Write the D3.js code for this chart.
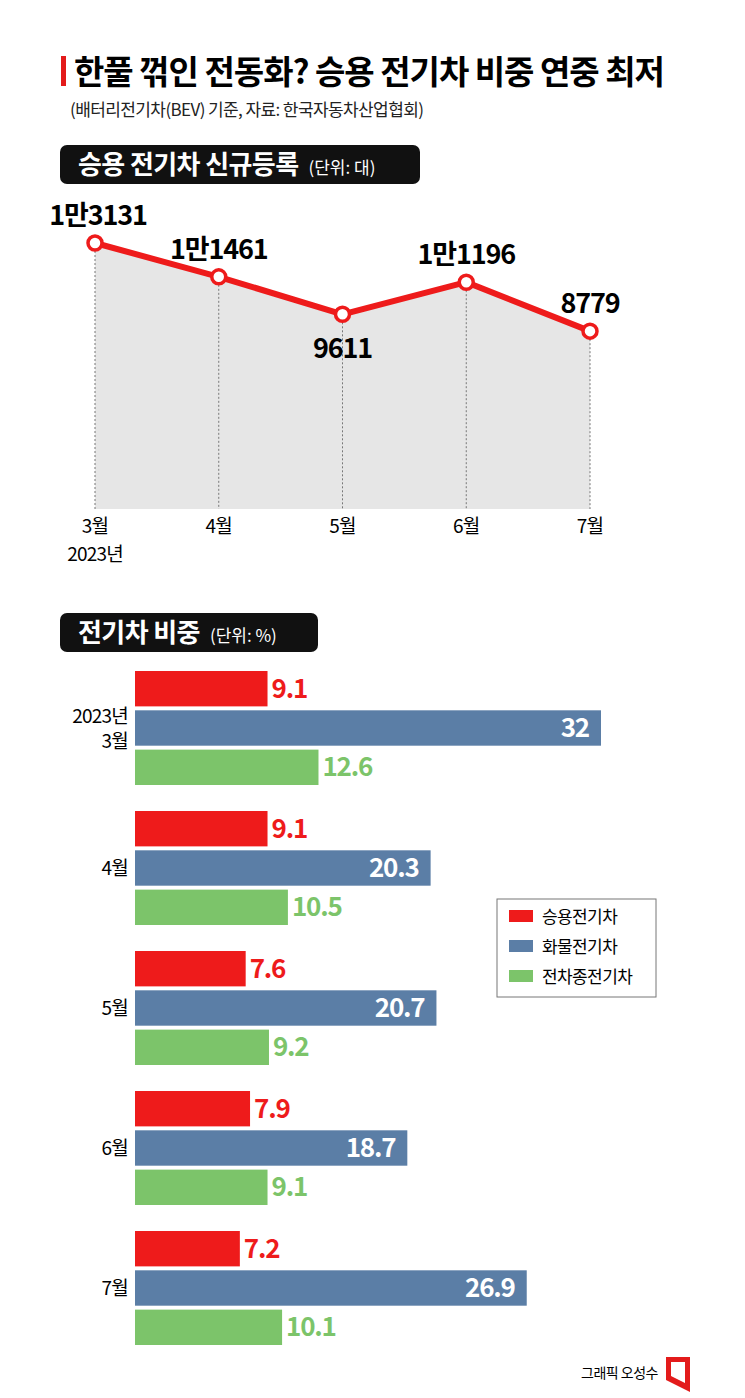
<!DOCTYPE html>
<html><head><meta charset="utf-8">
<script src="https://cdn.jsdelivr.net/npm/d3@7"></script>
<style>body{margin:0;background:#fff;font-family:"Noto Sans CJK KR","Noto Sans",sans-serif}</style>
</head><body>
<svg id="c" width="745" height="1398"></svg>
<script>
const months = ['3월', '4월', '5월', '6월', '7월'];
const regs = [13131, 11461, 9611, 11196, 8779];
const regLabels = ['1만3131', '1만1461', '9611', '1만1196', '8779'];
const barCats = ['2023년\n3월', '4월', '5월', '6월', '7월'];
const passenger = [9.1, 9.1, 7.6, 7.9, 7.2];
const truck = [32, 20.3, 20.7, 18.7, 26.9];
const allCars = [12.6, 10.5, 9.2, 9.1, 10.1];
const seriesNames = ['승용 전기차', '화물 전기차', '전차종 전기차'];
const colors = ['#ee1b1b', '#5b7ea6', '#7cc46a'];

const svg = d3.select('#c');
const F = '"Noto Sans CJK KR", sans-serif';

// 제목
svg.append('rect').attr('x', 61).attr('y', 56).attr('width', 5).attr('height', 30).attr('fill', '#e31b1b');
svg.append('text').attr('x', 74).attr('y', 84).attr('font-family', F).attr('font-weight', 700)
  .attr('font-size', 33).attr('letter-spacing', -1).text('한풀 꺾인 전동화?  승용 전기차 비중 연중 최저');
svg.append('text').attr('x', 70).attr('y', 116).attr('font-family', F).attr('font-size', 17)
  .attr('letter-spacing', -0.6).attr('fill', '#222').text('(배터리전기차(BEV) 기준, 자료: 한국자동차산업협회)');

function header(y, w, main, unit) {
  svg.append('rect').attr('x', 60).attr('y', y).attr('width', w).attr('height', 39).attr('rx', 7).attr('fill', '#111');
  const t = svg.append('text').attr('x', 78).attr('y', y + 29).attr('fill', '#fff').attr('font-family', F);
  t.append('tspan').attr('font-size', 26).attr('font-weight', 700).attr('letter-spacing', -0.6).text(main);
  t.append('tspan').attr('font-size', 17).attr('dx', 10).text(unit);
}
header(145, 360, '승용 전기차 신규등록', '(단위: 대)');
header(613, 258, '전기차 비중', '(단위: %)');

// 선 그래프
const x = d3.scalePoint().domain(months).range([95, 590]);
const y = d3.scaleLinear().domain([0, 13131]).range([509, 243]);
const pts = months.map((m, i) => ({ m, v: regs[i], l: regLabels[i] }));

svg.append('path').datum(pts).attr('fill', '#e6e6e6')
  .attr('d', d3.area().x(d => x(d.m)).y0(y(0)).y1(d => y(d.v)));
svg.selectAll('.drop').data(pts).join('line')
  .attr('x1', d => x(d.m)).attr('x2', d => x(d.m)).attr('y1', d => y(d.v)).attr('y2', y(0))
  .attr('stroke', '#777').attr('stroke-dasharray', '2,2');
svg.append('path').datum(pts).attr('fill', 'none').attr('stroke', '#ee1b1b').attr('stroke-width', 6)
  .attr('d', d3.line().x(d => x(d.m)).y(d => y(d.v)));
svg.selectAll('.dot').data(pts).join('circle')
  .attr('cx', d => x(d.m)).attr('cy', d => y(d.v)).attr('r', 7)
  .attr('fill', '#fff').attr('stroke', '#ee1b1b').attr('stroke-width', 3.5);
const below = [false, false, true, false, false];
svg.selectAll('.vl').data(pts).join('text')
  .attr('x', (d, i) => x(d.m) + (i === 0 ? 3 : 0))
  .attr('y', (d, i) => below[i] ? y(d.v) + 44 : y(d.v) - 18)
  .attr('text-anchor', 'middle').attr('font-family', F).attr('font-weight', 700)
  .attr('font-size', 27).attr('letter-spacing', -1.2).text(d => d.l);
svg.selectAll('.xl').data(months).join('text')
  .attr('x', d => x(d)).attr('y', 533).attr('text-anchor', 'middle')
  .attr('font-family', F).attr('font-size', 19).attr('letter-spacing', -0.8).text(d => d);
svg.append('text').attr('x', x('3월')).attr('y', 561).attr('text-anchor', 'middle')
  .attr('font-family', F).attr('font-size', 19).attr('letter-spacing', -0.8).text('2023년');

// 막대 그래프
const bx = d3.scaleLinear().domain([0, 32]).range([135, 601]);
const gy = d3.scaleBand().domain(barCats).range([671, 1371]).paddingInner(0);
const sy = d3.scaleBand().domain([0, 1, 2]).range([0, 114]).paddingInner(0.1);
const series = [passenger, truck, allCars];
const bars = [];
barCats.forEach((c, i) => series.forEach((s, k) => bars.push({ c, k, v: s[i] })));
svg.selectAll('.bar').data(bars).join('rect')
  .attr('x', bx(0)).attr('y', d => gy(d.c) + sy(d.k)).attr('width', d => bx(d.v) - bx(0))
  .attr('height', sy.bandwidth()).attr('fill', d => colors[d.k]);
svg.selectAll('.bv').data(bars).join('text')
  .attr('x', d => d.k === 1 ? bx(d.v) - 12 : bx(d.v) + 4)
  .attr('y', d => gy(d.c) + sy(d.k) + sy.bandwidth() / 2 + 9)
  .attr('text-anchor', d => d.k === 1 ? 'end' : 'start')
  .attr('fill', d => d.k === 1 ? '#fff' : colors[d.k])
  .attr('font-family', F).attr('font-weight', 700).attr('font-size', 26).attr('letter-spacing', -1.2)
  .text(d => d.v);
barCats.forEach(c => {
  const lines = c.split('\n');
  const cy = gy(c) + sy(1) + sy.bandwidth() / 2;
  lines.forEach((l, j) => {
    svg.append('text').attr('x', 128).attr('y', cy + 7 + (j - (lines.length - 1) / 2) * 25)
      .attr('text-anchor', 'end').attr('font-family', F).attr('font-size', 19)
      .attr('letter-spacing', -0.8).text(l);
  });
});

// 범례
svg.append('rect').attr('x', 497).attr('y', 899).attr('width', 159).attr('height', 98)
  .attr('fill', '#fff').attr('stroke', '#777');
seriesNames.forEach((n, k) => {
  svg.append('rect').attr('x', 509).attr('y', 910 + k * 30).attr('width', 24).attr('height', 12).attr('fill', colors[k]);
  svg.append('text').attr('x', 542).attr('y', 923 + k * 30).attr('font-family', F).attr('font-size', 17)
    .attr('letter-spacing', -0.6).text(n.replace(' ', ''));
});

// 크레딧
svg.append('text').attr('x', 658).attr('y', 1378).attr('text-anchor', 'end').attr('font-family', F)
  .attr('font-size', 14).attr('letter-spacing', -0.5).text('그래픽 오성수');
svg.append('path').attr('d', 'M666,1357 L690,1357 L690,1392 L666,1380 Z M671,1362 L671,1376 L685,1383 L685,1362 Z')
  .attr('fill', '#e31b1b').attr('fill-rule', 'evenodd');
</script>
</body></html>
